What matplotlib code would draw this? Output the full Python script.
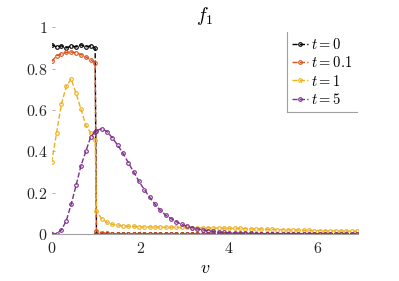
import matplotlib
matplotlib.use("Agg")
import matplotlib.pyplot as plt
from matplotlib.lines import Line2D

plt.rcParams["mathtext.fontset"] = "cm"
plt.rcParams["font.family"] = "serif"
plt.rcParams["font.serif"] = ["cmr10", "DejaVu Serif"]
plt.rcParams["axes.formatter.use_mathtext"] = True

# velocity grid (denser below the jump at v = 1)
v = [
    0.00, 0.11, 0.22, 0.33, 0.44, 0.55, 0.66, 0.77, 0.88, 0.98,
    1.01, 1.13, 1.25, 1.37, 1.49, 1.61, 1.73, 1.85, 1.97, 2.09,
    2.21, 2.33, 2.45, 2.57, 2.69, 2.81, 2.93, 3.05, 3.17, 3.29,
    3.41, 3.53, 3.65, 3.77, 3.89, 4.01, 4.13, 4.25, 4.37, 4.49,
    4.61, 4.73, 4.85, 4.97, 5.09, 5.21, 5.33, 5.45, 5.57, 5.69,
    5.81, 5.93, 6.05, 6.17, 6.29, 6.41, 6.53, 6.65, 6.77, 6.89,
]

f_t0 = [
    0.915, 0.905, 0.910, 0.900, 0.910, 0.905, 0.915, 0.905, 0.910, 0.900,
    0.0, 0.0, 0.0, 0.0, 0.0, 0.0, 0.0, 0.0, 0.0, 0.0,
    0.0, 0.0, 0.0, 0.0, 0.0, 0.0, 0.0, 0.0, 0.0, 0.0,
    0.0, 0.0, 0.0, 0.0, 0.0, 0.0, 0.0, 0.0, 0.0, 0.0,
    0.0, 0.0, 0.0, 0.0, 0.0, 0.0, 0.0, 0.0, 0.0, 0.0,
    0.0, 0.0, 0.0, 0.0, 0.0, 0.0, 0.0, 0.0, 0.0, 0.0,
]

f_t01 = [
    0.835, 0.862, 0.872, 0.878, 0.880, 0.877, 0.868, 0.856, 0.843, 0.828,
    0.015, 0.006, 0.003, 0.002, 0.002, 0.001, 0.001, 0.001, 0.0, 0.0,
    0.0, 0.0, 0.0, 0.0, 0.0, 0.0, 0.0, 0.0, 0.0, 0.0,
    0.0, 0.0, 0.0, 0.0, 0.0, 0.0, 0.0, 0.0, 0.0, 0.0,
    0.0, 0.0, 0.0, 0.0, 0.0, 0.0, 0.0, 0.0, 0.0, 0.0,
    0.0, 0.0, 0.0, 0.0, 0.0, 0.0, 0.0, 0.0, 0.0, 0.0,
]

f_t1 = [
    0.347, 0.490, 0.630, 0.715, 0.750, 0.680, 0.605, 0.525, 0.490, 0.455,
    0.110, 0.074, 0.056, 0.047, 0.043, 0.040, 0.038, 0.037, 0.036, 0.035,
    0.034, 0.034, 0.033, 0.033, 0.033, 0.032, 0.032, 0.032, 0.031, 0.031,
    0.030, 0.030, 0.029, 0.029, 0.028, 0.028, 0.027, 0.027, 0.026, 0.025,
    0.025, 0.024, 0.023, 0.023, 0.022, 0.021, 0.020, 0.020, 0.019, 0.018,
    0.018, 0.017, 0.017, 0.016, 0.016, 0.015, 0.015, 0.014, 0.014, 0.013,
]

f_t5 = [
    0.000, 0.002, 0.020, 0.065, 0.145, 0.235, 0.330, 0.400, 0.470, 0.495,
    0.500, 0.510, 0.495, 0.465, 0.430, 0.390, 0.345, 0.300, 0.255, 0.215,
    0.178, 0.145, 0.115, 0.092, 0.075, 0.060, 0.047, 0.038, 0.031, 0.025,
    0.020, 0.016, 0.013, 0.010, 0.008, 0.006, 0.005, 0.004, 0.003, 0.003,
    0.002, 0.002, 0.002, 0.002, 0.002, 0.002, 0.002, 0.002, 0.002, 0.002,
    0.002, 0.002, 0.002, 0.001, 0.001, 0.001, 0.001, 0.001, 0.001, 0.001,
]

series = [
    (r"$t = 0$", f_t0, "#000000"),
    (r"$t = 0.1$", f_t01, "#D95319"),
    (r"$t = 1$", f_t1, "#EDB120"),
    (r"$t = 5$", f_t5, "#7E2F8E"),
]

x_ticks = [0, 2, 4, 6]
y_ticks = [0, 0.2, 0.4, 0.6, 0.8, 1]
y_tick_labels = ["$0$", "$0.2$", "$0.4$", "$0.6$", "$0.8$", "$1$"]

fig = plt.figure(figsize=(3.99, 2.81), dpi=100)
ax = fig.add_axes([0.1296, 0.167, 0.7684, 0.736])

for label, values, color in series:
    ax.plot(v, values, "--o", color=color, lw=1.0, ms=2.6,
            mfc="none", mew=0.8, label=label)

ax.set_xlim(0, 6.92)
ax.set_ylim(0, 1)
ax.set_xticks(x_ticks)
ax.set_xticklabels([f"${t}$" for t in x_ticks])
ax.set_yticks(y_ticks)
ax.set_yticklabels(y_tick_labels)
ax.tick_params(direction="in", length=2.5, width=0.6, color="#a0a0a0",
               labelsize=11.5, labelcolor="#262626")
ax.tick_params(axis="x", pad=5)
ax.tick_params(axis="y", pad=3)

for side in ("top", "right", "left"):
    ax.spines[side].set_visible(False)
ax.spines["bottom"].set_color("#a0a0a0")
ax.spines["bottom"].set_linewidth(0.8)

ax.set_title("$f_1$", fontsize=14, pad=4)
ax.set_xlabel("$v$", fontsize=13, labelpad=3)

leg = ax.legend(loc="upper right", bbox_to_anchor=(0.996, 0.977),
                borderaxespad=0, frameon=False, fontsize=10.5,
                handlelength=1.1, handletextpad=0.2, labelspacing=0.22,
                borderpad=0.35)

# only the left and bottom edges of the legend box are visible
fig.canvas.draw()
bb = leg.get_window_extent().transformed(fig.transFigure.inverted())
for xs, ys in (([bb.x0, bb.x0], [bb.y0, bb.y1]), ([bb.x0, bb.x1], [bb.y0, bb.y0])):
    fig.add_artist(Line2D(xs, ys, transform=fig.transFigure,
                          color="#a0a0a0", lw=0.8))

fig.savefig("out.png", dpi=100)
